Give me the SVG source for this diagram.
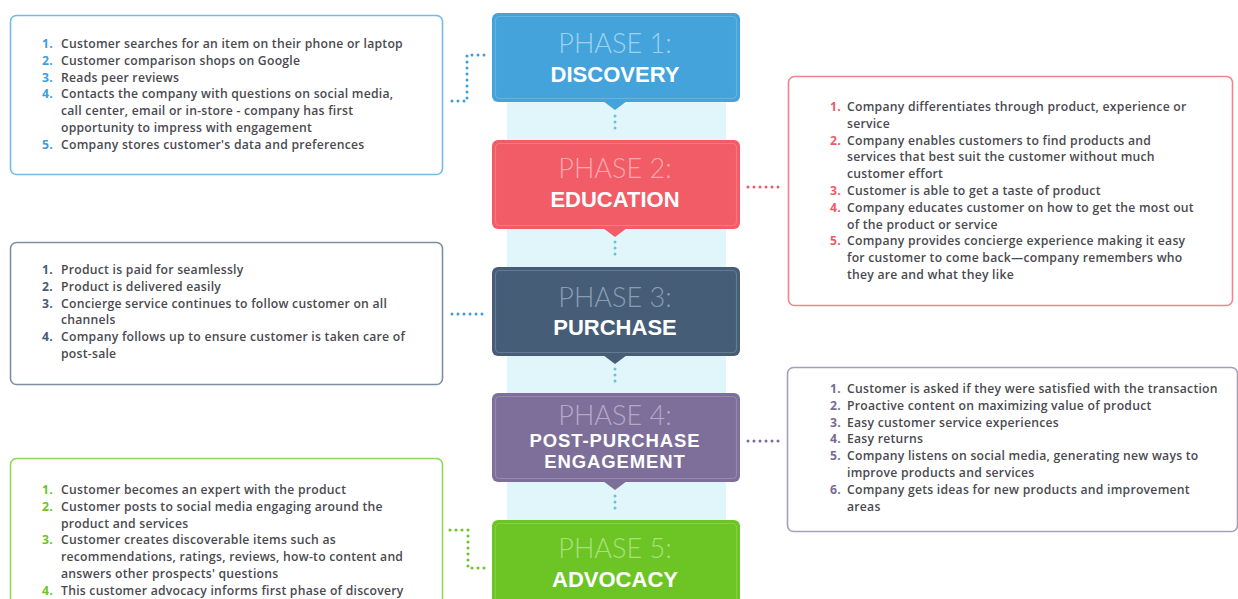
<svg xmlns="http://www.w3.org/2000/svg" width="1238" height="599" viewBox="0 0 1238 599">
  <style>
    .card { fill: #ffffff; stroke-width: 1.6; }
    .item { font-family: "Open Sans", "Liberation Sans", sans-serif; font-weight: 600; font-size: 12.2px; letter-spacing: 0.25px; fill: #4a4a4f; }
    .num { font-weight: 700; }
    .ph-top { font-family: Lato, "Liberation Sans", sans-serif; font-weight: 300; font-size: 27px; text-anchor: middle; }
    .ph-name { font-family: "Liberation Sans", sans-serif; font-weight: 700; font-size: 22px; fill: #ffffff; text-anchor: middle; }
    .ph-name2 { font-size: 18.5px; letter-spacing: 0.9px; }
    .inner { fill: none; stroke: #ffffff; stroke-opacity: 0.18; stroke-width: 1.2; }
    .dots { fill: none; stroke-width: 3; stroke-linecap: round; stroke-dasharray: 0 6; }
  </style>

  <rect width="1238" height="599" fill="#ffffff"/>

  <!-- central band behind the phases -->
  <rect x="507" y="100" width="219" height="425" fill="#e1f6fa"/>

  <!-- connectors -->
  <g id="connectors">
    <path class="dots" stroke="#3d9ed9" d="M452 101 H467 V55 H485"/>
    <path class="dots" stroke="#ef5a66" d="M748 187 H782"/>
    <path class="dots" stroke="#3d9ed9" d="M452 314 H486"/>
    <path class="dots" stroke="#7a6b96" d="M748 441 H782"/>
    <path class="dots" stroke="#6cc524" d="M450 530 H468 V568 H485"/>
    <path class="dots" stroke="#6ec1d3" d="M615 116 V134"/>
    <path class="dots" stroke="#6ec1d3" d="M615 242 V260"/>
    <path class="dots" stroke="#6ec1d3" d="M615 369 V387"/>
    <path class="dots" stroke="#6ec1d3" d="M615 496 V514"/>
  </g>

  <!-- phase 1 -->
  <g id="phase1">
    <rect x="492" y="13" width="248" height="89" rx="6" fill="#44a3db"/>
    <path d="M603 101 L615 110 L627 101 Z" fill="#44a3db"/>
    <rect class="inner" x="495.5" y="16.5" width="241" height="82" rx="4"/>
    <text class="ph-top" x="615" y="53" fill="#9fd2ef">PHASE 1:</text>
    <text class="ph-name" x="615" y="82">DISCOVERY</text>
  </g>

  <!-- phase 2 -->
  <g id="phase2">
    <rect x="492" y="140" width="248" height="89" rx="6" fill="#f15c67"/>
    <path d="M603 228 L615 237 L627 228 Z" fill="#f15c67"/>
    <rect class="inner" x="495.5" y="143.5" width="241" height="82" rx="4"/>
    <text class="ph-top" x="615" y="178" fill="#f8a9ae">PHASE 2:</text>
    <text class="ph-name" x="615" y="207">EDUCATION</text>
  </g>

  <!-- phase 3 -->
  <g id="phase3">
    <rect x="492" y="267" width="248" height="89" rx="6" fill="#465d78"/>
    <path d="M603 355 L615 364 L627 355 Z" fill="#465d78"/>
    <rect class="inner" x="495.5" y="270.5" width="241" height="82" rx="4"/>
    <text class="ph-top" x="615" y="307" fill="#8c9cb0">PHASE 3:</text>
    <text class="ph-name" x="615" y="335">PURCHASE</text>
  </g>

  <!-- phase 4 -->
  <g id="phase4">
    <rect x="492" y="393" width="248" height="89" rx="6" fill="#7d6f99"/>
    <path d="M603 481 L615 490 L627 481 Z" fill="#7d6f99"/>
    <rect class="inner" x="495.5" y="396.5" width="241" height="82" rx="4"/>
    <text class="ph-top" x="615" y="425" fill="#b4aac6">PHASE 4:</text>
    <text class="ph-name ph-name2" x="615" y="447">POST-PURCHASE</text>
    <text class="ph-name ph-name2" x="615" y="468">ENGAGEMENT</text>
  </g>

  <!-- phase 5 -->
  <g id="phase5">
    <rect x="492" y="520" width="248" height="95" rx="6" fill="#6cc524"/>
    <rect class="inner" x="495.5" y="523.5" width="241" height="90" rx="4"/>
    <text class="ph-top" x="615" y="558" fill="#a9e07c">PHASE 5:</text>
    <text class="ph-name" x="615" y="587">ADVOCACY</text>
  </g>

  <!-- discovery details -->
  <g id="card1">
    <rect class="card" x="10.5" y="15.5" width="432" height="159" rx="6" stroke="#74bbe6"/>
    <text class="item">
      <tspan class="num" x="42" y="48" fill="#3d9ed9">1.</tspan><tspan x="61">Customer searches for an item on their phone or laptop</tspan>
      <tspan class="num" x="42" y="64.8" fill="#3d9ed9">2.</tspan><tspan x="61">Customer comparison shops on Google</tspan>
      <tspan class="num" x="42" y="81.6" fill="#3d9ed9">3.</tspan><tspan x="61">Reads peer reviews</tspan>
      <tspan class="num" x="42" y="98.4" fill="#3d9ed9">4.</tspan><tspan x="61">Contacts the company with questions on social media,</tspan>
      <tspan x="61" y="115.2">call center, email or in-store - company has first</tspan>
      <tspan x="61" y="132">opportunity to impress with engagement</tspan>
      <tspan class="num" x="42" y="148.8" fill="#3d9ed9">5.</tspan><tspan x="61">Company stores customer's data and preferences</tspan>
    </text>
  </g>

  <!-- education details -->
  <g id="card2">
    <rect class="card" x="788.5" y="76.5" width="444" height="229" rx="6" stroke="#f3838b"/>
    <text class="item">
      <tspan class="num" x="830" y="111" fill="#ef5a66">1.</tspan><tspan x="847">Company differentiates through product, experience or</tspan>
      <tspan x="847" y="127.8">service</tspan>
      <tspan class="num" x="830" y="144.6" fill="#ef5a66">2.</tspan><tspan x="847">Company enables customers to find products and</tspan>
      <tspan x="847" y="161.4">services that best suit the customer without much</tspan>
      <tspan x="847" y="178.2">customer effort</tspan>
      <tspan class="num" x="830" y="195" fill="#ef5a66">3.</tspan><tspan x="847">Customer is able to get a taste of product</tspan>
      <tspan class="num" x="830" y="211.8" fill="#ef5a66">4.</tspan><tspan x="847">Company educates customer on how to get the most out</tspan>
      <tspan x="847" y="228.6">of the product or service</tspan>
      <tspan class="num" x="830" y="245.4" fill="#ef5a66">5.</tspan><tspan x="847">Company provides concierge experience making it easy</tspan>
      <tspan x="847" y="262.2">for customer to come back—company remembers who</tspan>
      <tspan x="847" y="279">they are and what they like</tspan>
    </text>
  </g>

  <!-- purchase details -->
  <g id="card3">
    <rect class="card" x="10.5" y="242.5" width="432" height="142" rx="6" stroke="#7e8fa3"/>
    <text class="item">
      <tspan class="num" x="42" y="274" fill="#465d78">1.</tspan><tspan x="61">Product is paid for seamlessly</tspan>
      <tspan class="num" x="42" y="290.8" fill="#465d78">2.</tspan><tspan x="61">Product is delivered easily</tspan>
      <tspan class="num" x="42" y="307.6" fill="#465d78">3.</tspan><tspan x="61">Concierge service continues to follow customer on all</tspan>
      <tspan x="61" y="324.4">channels</tspan>
      <tspan class="num" x="42" y="341.2" fill="#465d78">4.</tspan><tspan x="61">Company follows up to ensure customer is taken care of</tspan>
      <tspan x="61" y="358">post-sale</tspan>
    </text>
  </g>

  <!-- post-purchase details -->
  <g id="card4">
    <rect class="card" x="787.5" y="367.5" width="450" height="164" rx="6" stroke="#a79ebb"/>
    <text class="item">
      <tspan class="num" x="830" y="393" fill="#7a6b96">1.</tspan><tspan x="847">Customer is asked if they were satisfied with the transaction</tspan>
      <tspan class="num" x="830" y="409.8" fill="#7a6b96">2.</tspan><tspan x="847">Proactive content on maximizing value of product</tspan>
      <tspan class="num" x="830" y="426.6" fill="#7a6b96">3.</tspan><tspan x="847">Easy customer service experiences</tspan>
      <tspan class="num" x="830" y="443.4" fill="#7a6b96">4.</tspan><tspan x="847">Easy returns</tspan>
      <tspan class="num" x="830" y="460.2" fill="#7a6b96">5.</tspan><tspan x="847">Company listens on social media, generating new ways to</tspan>
      <tspan x="847" y="477">improve products and services</tspan>
      <tspan class="num" x="830" y="493.8" fill="#7a6b96">6.</tspan><tspan x="847">Company gets ideas for new products and improvement</tspan>
      <tspan x="847" y="510.6">areas</tspan>
    </text>
  </g>

  <!-- advocacy details -->
  <g id="card5">
    <rect class="card" x="10.5" y="458.5" width="432" height="160" rx="6" stroke="#8fd85a"/>
    <text class="item">
      <tspan class="num" x="42" y="494" fill="#6cc524">1.</tspan><tspan x="61">Customer becomes an expert with the product</tspan>
      <tspan class="num" x="42" y="510.8" fill="#6cc524">2.</tspan><tspan x="61">Customer posts to social media engaging around the</tspan>
      <tspan x="61" y="527.6">product and services</tspan>
      <tspan class="num" x="42" y="544.4" fill="#6cc524">3.</tspan><tspan x="61">Customer creates discoverable items such as</tspan>
      <tspan x="61" y="561.2">recommendations, ratings, reviews, how-to content and</tspan>
      <tspan x="61" y="578">answers other prospects' questions</tspan>
      <tspan class="num" x="42" y="594.8" fill="#6cc524">4.</tspan><tspan x="61">This customer advocacy informs first phase of discovery</tspan>
    </text>
  </g>
</svg>
